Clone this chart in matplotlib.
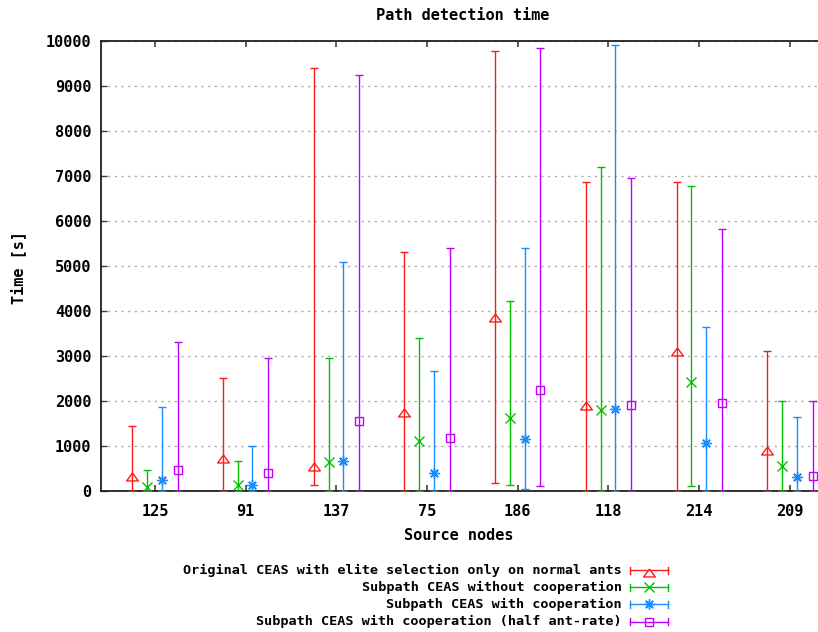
import matplotlib
matplotlib.use("Agg")
import matplotlib.pyplot as plt
import numpy as np

nodes = ["125", "91", "137", "75", "186", "118", "214", "209"]

labels = [
    "Original CEAS with elite selection only on normal ants",
    "Subpath CEAS without cooperation",
    "Subpath CEAS with cooperation",
    "Subpath CEAS with cooperation (half ant-rate)",
]

# detection time per source node: mean, min, max [s]
orig_mean = [380, 770, 590, 1810, 3920, 1950, 3150, 960]
orig_min = [0, 0, 142, 0, 171, 0, 0, 0]
orig_max = [1444, 2511, 9393, 5311, 9778, 6867, 6867, 3111]

nocoop_mean = [90, 142, 644, 1111, 1622, 1793, 2422, 556]
nocoop_min = [0, 0, 0, 0, 142, 0, 111, 0]
nocoop_max = [460, 667, 2956, 3400, 4230, 7200, 6778, 2000]

coop_mean = [253, 127, 667, 400, 1149, 1822, 1067, 311]
coop_min = [0, 0, 0, 0, 44, 0, 0, 0]
coop_max = [1860, 993, 5089, 2660, 5393, 9904, 3638, 1653]

half_mean = [460, 409, 1556, 1178, 2244, 1920, 1949, 327]
half_min = [0, 0, 0, 0, 111, 0, 0, 0]
half_max = [3311, 2956, 9238, 5393, 9844, 6956, 5831, 2000]

means = [orig_mean, nocoop_mean, coop_mean, half_mean]
mins = [orig_min, nocoop_min, coop_min, half_min]
maxs = [orig_max, nocoop_max, coop_max, half_max]

colors = ["#ff1a1a", "#00c000", "#1a8cff", "#c000ff"]
offsets = [-0.25, -0.085, 0.075, 0.25]

# flat gnuplot-style triangle, apex close to the data point
tri = [(0, 0.25), (-1, -1.1), (1, -1.1), (0, 0.25)]
markers = [tri, "x", (8, 2, 0), "s"]
msizes = [9.3, 7, 7.5, 6.3]

W, H = 818, 632
fig = plt.figure(figsize=(W / 100, H / 100), dpi=100)
ax = fig.add_axes([101 / W, 1 - 491 / H, (822 - 101) / W, (491 - 41) / H])

font = {"family": "DejaVu Sans Mono", "weight": "bold"}
tick_size = 11

x = np.arange(len(nodes))
for m, lo, hi, c, off, mk, ms in zip(means, mins, maxs, colors, offsets, markers, msizes):
    m = np.array(m)
    yerr = [m - np.array(lo), np.array(hi) - m]
    ax.errorbar(x + off, m, yerr=yerr, fmt="none", ecolor=c, elinewidth=1.0,
                capsize=2.6, capthick=1.0, zorder=3)
    ax.plot(x + off, m, linestyle="none", marker=mk, markersize=ms,
            markerfacecolor="none", markeredgecolor=c, markeredgewidth=1.0, zorder=4)

ax.set_xlim(-0.595, 7.354)
ax.set_ylim(0, 10000)
ax.set_yticks(np.arange(0, 10001, 1000))
ax.set_xticks(x)
ax.set_xticklabels(nodes)

ax.yaxis.grid(True, color="#a8a8a8", linestyle=(0, (1.5, 3.3)), linewidth=1.0)
ax.set_axisbelow(True)

ax.spines["right"].set_visible(False)
for s in ["left", "bottom", "top"]:
    ax.spines[s].set_color("#202020")
    ax.spines[s].set_linewidth(1.3)

ax.tick_params(axis="y", direction="in", length=4, width=1, color="#404040", pad=7)
ax.tick_params(axis="x", direction="in", length=4.3, width=1.2, color="#404040",
               top=True, pad=9)
for lab in ax.get_xticklabels() + ax.get_yticklabels():
    lab.set_fontfamily(font["family"])
    lab.set_fontweight(font["weight"])
    lab.set_fontsize(tick_size)

fig.text(463 / W, 1 - 15 / H, "Path detection time", ha="center", va="center",
         fontsize=tick_size, **font)
fig.text(459 / W, 1 - 535 / H, "Source nodes", ha="center", va="center",
         fontsize=tick_size, **font)
fig.text(18 / W, 1 - 267 / H, "Time [s]", ha="center", va="center",
         rotation=90, fontsize=tick_size, **font)

# key below the plot: right-aligned text, horizontal error bar sample
lax = fig.add_axes([0, 0, 1, 1])
lax.set_xlim(0, W)
lax.set_ylim(H, 0)
lax.axis("off")
rows = [570, 587.3, 604.3, 621.7]
for lbl, c, mk, ms, yy in zip(labels, colors, markers, msizes, rows):
    lax.text(622, yy, lbl, ha="right", va="center", fontsize=9.7, **font)
    lax.plot([630, 668], [yy, yy], color=c, lw=1.0)
    lax.plot([630, 630], [yy - 3.5, yy + 3.5], color=c, lw=1.0)
    lax.plot([668, 668], [yy - 3.5, yy + 3.5], color=c, lw=1.0)
    lax.plot([649], [yy], linestyle="none", marker=mk, markersize=ms,
             markerfacecolor="none", markeredgecolor=c, markeredgewidth=1.0)

fig.savefig("out.png", dpi=100)
